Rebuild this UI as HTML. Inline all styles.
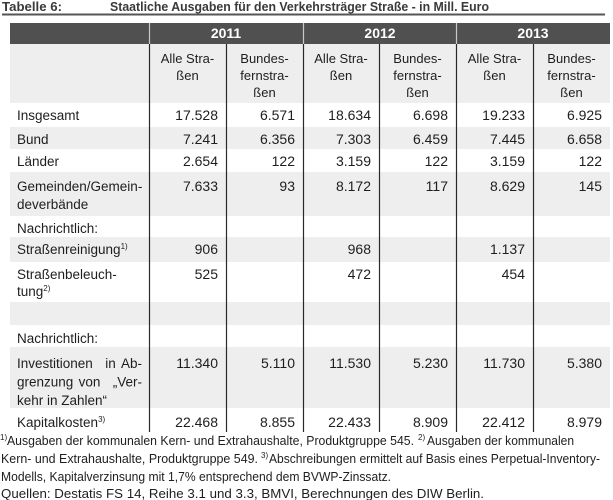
<!DOCTYPE html>
<html><head><meta charset="utf-8"><style>
html,body{margin:0;padding:0;background:#fff;}
svg{display:block;}
text{font-family:"Liberation Sans",sans-serif;}
.lab{font-size:13.5px;fill:#1e1e1e;}
.num{font-size:14px;fill:#1e1e1e;text-anchor:end;}
.hd{font-size:13px;fill:#1e1e1e;text-anchor:middle;}
.yr{font-size:14px;font-weight:bold;fill:#fff;text-anchor:middle;}
.fn{font-size:12.5px;fill:#1e1e1e;}
.sup{font-size:8px;fill:#1e1e1e;}
</style></head><body>
<svg width="613" height="500" viewBox="0 0 613 500" xmlns="http://www.w3.org/2000/svg">
<rect x="0" y="0" width="613" height="500" fill="#fff"/>
<!-- title -->
<text x="2" y="11" font-size="13" font-weight="bold" fill="#3a3a3a" textLength="60" lengthAdjust="spacingAndGlyphs">Tabelle 6:</text>
<text x="110" y="11" font-size="13" font-weight="bold" fill="#3a3a3a" textLength="379" lengthAdjust="spacingAndGlyphs">Staatliche Ausgaben für den Verkehrsträger Straße - in Mill. Euro</text>
<rect x="2" y="13.5" width="603" height="2" fill="#555"/>
<!-- header backgrounds -->
<rect x="10" y="23" width="600" height="21" fill="#505050"/>
<rect x="10" y="44" width="600" height="59" fill="#eeeeee"/>
<!-- striped rows -->
<rect x="10" y="127" width="600" height="22" fill="#eeeeee"/>
<rect x="10" y="172" width="600" height="44" fill="#eeeeee"/>
<rect x="10" y="237" width="600" height="25" fill="#eeeeee"/>
<rect x="10" y="302" width="600" height="23" fill="#eeeeee"/>
<rect x="10" y="347" width="600" height="61" fill="#eeeeee"/>
<!-- header light separators -->
<g stroke="#c8c8c8" stroke-width="1.2">
<line x1="149.5" y1="23" x2="149.5" y2="44"/>
<line x1="303.5" y1="23" x2="303.5" y2="44"/>
<line x1="456.5" y1="23" x2="456.5" y2="44"/>
</g>
<!-- column lines -->
<g stroke="#2a2a2a" stroke-width="1.2">
<line x1="149.5" y1="44" x2="149.5" y2="432"/>
<line x1="226.5" y1="44" x2="226.5" y2="432"/>
<line x1="303.5" y1="44" x2="303.5" y2="432"/>
<line x1="379.5" y1="44" x2="379.5" y2="432"/>
<line x1="456.5" y1="44" x2="456.5" y2="432"/>
<line x1="533.5" y1="44" x2="533.5" y2="432"/>
</g>
<!-- years -->
<text class="yr" x="226" y="38">2011</text>
<text class="yr" x="380" y="38">2012</text>
<text class="yr" x="533" y="38">2013</text>
<!-- subheaders -->
<text class="hd" x="187.5" y="63">Alle Stra-</text>
<text class="hd" x="187.5" y="80">ßen</text>
<text class="hd" x="264.5" y="63">Bundes-</text>
<text class="hd" x="264.5" y="80">fernstra-</text>
<text class="hd" x="264.5" y="97">ßen</text>
<text class="hd" x="341" y="63">Alle Stra-</text>
<text class="hd" x="341" y="80">ßen</text>
<text class="hd" x="417.5" y="63">Bundes-</text>
<text class="hd" x="417.5" y="80">fernstra-</text>
<text class="hd" x="417.5" y="97">ßen</text>
<text class="hd" x="494.5" y="63">Alle Stra-</text>
<text class="hd" x="494.5" y="80">ßen</text>
<text class="hd" x="571.5" y="63">Bundes-</text>
<text class="hd" x="571.5" y="80">fernstra-</text>
<text class="hd" x="571.5" y="97">ßen</text>
<!-- labels -->
<text class="lab" x="17" y="120">Insgesamt</text>
<text class="lab" x="17" y="144">Bund</text>
<text class="lab" x="17" y="166">Länder</text>
<text class="lab" x="17" y="191">Gemeinden/Gemein-</text>
<text class="lab" x="17" y="209">deverbände</text>
<text class="lab" x="17" y="233">Nachrichtlich:</text>
<text class="lab" x="17" y="254">Straßenreinigung<tspan class="sup" dy="-5">1)</tspan></text>
<text class="lab" x="17" y="279">Straßenbeleuch-</text>
<text class="lab" x="17" y="296">tung<tspan class="sup" dy="-5">2)</tspan></text>
<text class="lab" x="17" y="343">Nachrichtlich:</text>
<text class="lab" x="17" y="368">Investitionen</text>
<text class="lab" x="110.5" y="368" text-anchor="middle">in</text>
<text class="lab" x="142" y="368" text-anchor="end">Ab-</text>
<text class="lab" x="17" y="386.5">grenzung</text>
<text class="lab" x="89.5" y="386.5" text-anchor="middle">von</text>
<text class="lab" x="142" y="386.5" text-anchor="end">„Ver-</text>
<text class="lab" x="17" y="405">kehr in Zahlen“</text>
<text class="lab" x="17" y="427">Kapitalkosten<tspan class="sup" dy="-5">3)</tspan></text>
<!-- numbers row Insgesamt -->
<text class="num" x="218" y="120">17.528</text>
<text class="num" x="295" y="120">6.571</text>
<text class="num" x="371" y="120">18.634</text>
<text class="num" x="448" y="120">6.698</text>
<text class="num" x="525" y="120">19.233</text>
<text class="num" x="602" y="120">6.925</text>
<!-- Bund -->
<text class="num" x="218" y="144">7.241</text>
<text class="num" x="295" y="144">6.356</text>
<text class="num" x="371" y="144">7.303</text>
<text class="num" x="448" y="144">6.459</text>
<text class="num" x="525" y="144">7.445</text>
<text class="num" x="602" y="144">6.658</text>
<!-- Länder -->
<text class="num" x="218" y="166">2.654</text>
<text class="num" x="295" y="166">122</text>
<text class="num" x="371" y="166">3.159</text>
<text class="num" x="448" y="166">122</text>
<text class="num" x="525" y="166">3.159</text>
<text class="num" x="602" y="166">122</text>
<!-- Gemeinden -->
<text class="num" x="218" y="191">7.633</text>
<text class="num" x="295" y="191">93</text>
<text class="num" x="371" y="191">8.172</text>
<text class="num" x="448" y="191">117</text>
<text class="num" x="525" y="191">8.629</text>
<text class="num" x="602" y="191">145</text>
<!-- Straßenreinigung -->
<text class="num" x="218" y="254">906</text>
<text class="num" x="371" y="254">968</text>
<text class="num" x="525" y="254">1.137</text>
<!-- Straßenbeleuchtung -->
<text class="num" x="218" y="279">525</text>
<text class="num" x="371" y="279">472</text>
<text class="num" x="525" y="279">454</text>
<!-- Investitionen -->
<text class="num" x="218" y="368">11.340</text>
<text class="num" x="295" y="368">5.110</text>
<text class="num" x="371" y="368">11.530</text>
<text class="num" x="448" y="368">5.230</text>
<text class="num" x="525" y="368">11.730</text>
<text class="num" x="602" y="368">5.380</text>
<!-- Kapitalkosten -->
<text class="num" x="218" y="427">22.468</text>
<text class="num" x="295" y="427">8.855</text>
<text class="num" x="371" y="427">22.433</text>
<text class="num" x="448" y="427">8.909</text>
<text class="num" x="525" y="427">22.412</text>
<text class="num" x="602" y="427">8.979</text>
<!-- footnotes -->
<text class="sup" x="0" y="440">1)</text>
<text class="fn" x="7" y="445" textLength="407" lengthAdjust="spacingAndGlyphs">Ausgaben der kommunalen Kern- und Extrahaushalte, Produktgruppe 545.</text>
<text class="sup" x="418" y="440">2)</text>
<text class="fn" x="427" y="445" textLength="147" lengthAdjust="spacingAndGlyphs">Ausgaben der kommunalen</text>
<text class="fn" x="1" y="463" textLength="257" lengthAdjust="spacingAndGlyphs">Kern- und Extrahaushalte, Produktgruppe 549.</text>
<text class="sup" x="261" y="458">3)</text>
<text class="fn" x="269" y="463" textLength="331" lengthAdjust="spacingAndGlyphs">Abschreibungen ermittelt auf Basis eines Perpetual-Inventory-</text>
<text class="fn" x="1" y="481" textLength="390" lengthAdjust="spacingAndGlyphs">Modells, Kapitalverzinsung mit 1,7% entsprechend dem BVWP-Zinssatz.</text>
<text class="fn" x="1" y="498" textLength="483" lengthAdjust="spacingAndGlyphs">Quellen: Destatis FS 14, Reihe 3.1 und 3.3, BMVI, Berechnungen des DIW Berlin.</text>
</svg>
</body></html>
